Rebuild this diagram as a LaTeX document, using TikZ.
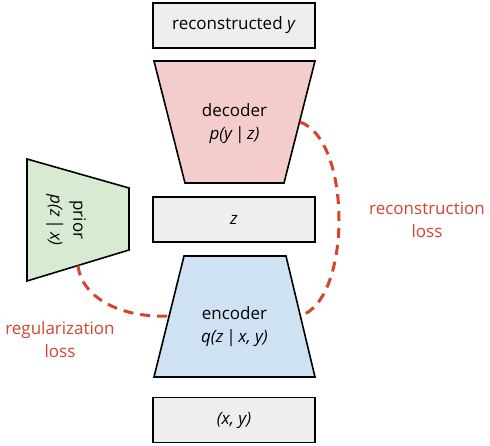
\documentclass[tikz,border=0pt]{standalone}
\usepackage{fontspec}
\setmainfont{Open Sans}
\definecolor{boxgray}{HTML}{EEEEEE}
\definecolor{decred}{HTML}{F4CCCC}
\definecolor{encblue}{HTML}{CFE2F3}
\definecolor{priorgreen}{HTML}{D9EAD3}
\definecolor{lossred}{HTML}{D5442E}

\begin{document}
\begin{tikzpicture}[
    x=1pt, y=-1pt,
    block/.style={rectangle, draw, line width=1.6pt, fill=boxgray,
                  minimum width=162pt, minimum height=45pt, inner sep=0pt,
                  font=\fontsize{17}{23}\selectfont},
    net/.style={draw, line width=1.6pt, line join=miter},
    nettext/.style={align=center, inner sep=0pt, font=\fontsize{17}{23}\selectfont},
    loss/.style={draw=lossred, line width=3pt, dash pattern=on 10pt off 7pt},
    losstext/.style={text=lossred, align=center, font=\fontsize{17}{23}\selectfont}
]
\useasboundingbox (0,0) rectangle (490,446);

% Salida
\node[block] (out) at (234,25.5) {reconstructed \textit{y}};

% Decoder
\draw[net, fill=decred] (154,61) -- (315,61) -- (284,183) -- (185,183) -- cycle;
\node[nettext] (dec) at (234.5,124) {decoder\\\textit{p(y\,|\,z)}};
\coordinate (decr) at (300,122);

% Latente
\node[block] (z) at (234,219.5) {\textit{z}};

% Encoder
\draw[net, fill=encblue] (184,256) -- (286,256) -- (315,377) -- (154,377) -- cycle;
\node[nettext] (enc) at (234.5,327) {encoder\\\textit{q(z\,|\,x, y)}};
\coordinate (encr) at (300,316);
\coordinate (encl) at (168,316);

% Entrada
\node[block] (in) at (234,420) {\textit{(x, y)}};

% Prior
\draw[net, fill=priorgreen] (27,159) -- (129,188) -- (129,250) -- (27,281) -- cycle;
\node[nettext, rotate=-90] (prior) at (66,220) {prior\\\textit{p(z\,|\,x)}};
\coordinate (priorb) at (78,265.5);

% P\'erdidas
\draw[loss] (decr) .. controls (352,140) and (352,300) .. (encr);
\draw[loss] (priorb) .. controls (82,300) and (125,318) .. (encl);

\node[losstext] (rec) at (427,220) {reconstruction\\loss};
\node[losstext] (reg) at (60,340) {regularization\\loss};

\end{tikzpicture}
\end{document}
